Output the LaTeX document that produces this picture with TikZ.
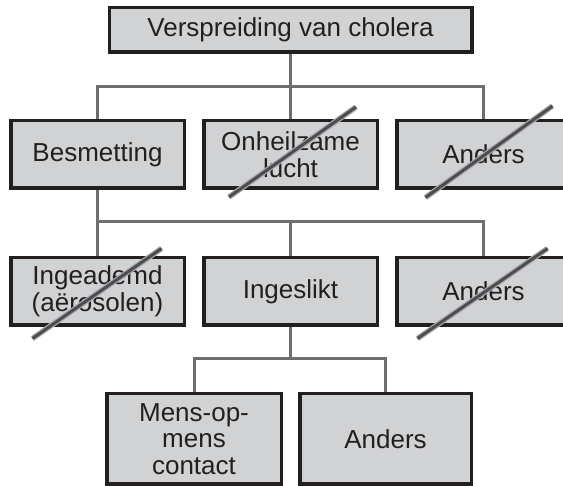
\documentclass[tikz,border=0pt]{standalone}
\usepackage{fontspec}
\setmainfont{Liberation Sans}
\definecolor{boxfill}{HTML}{D1D2D4}
\definecolor{boxline}{HTML}{231F20}
\definecolor{linkgray}{HTML}{6D6E71}
\definecolor{strikedark}{HTML}{4D4D4F}
\definecolor{strikelight}{HTML}{A7A9AC}

\begin{document}
\begin{tikzpicture}[x=1pt, y=-1pt,
    box/.style={draw=boxline, fill=boxfill, line width=3.5pt, inner sep=0pt, align=center,
      text=boxline, font=\fontsize{26}{26.5}\selectfont,
      minimum width=173.5pt, minimum height=67.5pt},
    link/.style={draw=linkgray, line width=3pt},
    strikelo/.style={draw=strikelight, line width=5.5pt},
    strikehi/.style={draw=strikedark, line width=3pt, xshift=-0.9pt, yshift=1.2pt}]
  \useasboundingbox (0,0) rectangle (563,486);
  \clip (0,0) rectangle (563,486);

  \node[box, minimum width=362.5pt, minimum height=44.5pt] (top) at (290.5,30) {Verspreiding van cholera};

  \node[box] (b1) at (97.5,154.5) {Besmetting};
  \node[box] (b2) at (290.5,154.5) {Onheilzame\\lucht};
  \node[box] (b3) at (483.5,154.5) {Anders};

  \node[box] (c1) at (97.5,291.5) {Ingeademd\\(aërosolen)};
  \node[box] (c2) at (290.5,291.5) {Ingeslikt};
  \node[box] (c3) at (483.5,291.5) {Anders};

  \node[box, minimum width=174.5pt, minimum height=90.5pt] (d1) at (194,439) {Mens-op-\\mens\\contact};
  \node[box, minimum width=171.5pt, minimum height=90.5pt] (d2) at (385.5,439) {Anders};

  \coordinate (j1) at (290.5,87);
  \coordinate (j2) at (97.5,222);
  \coordinate (j3) at (290.5,359);

  \draw[link] (top) -- (j1);
  \draw[link] (b1) |- (j1) -| (b3);
  \draw[link] (j1) -- (b2);

  \draw[link] (b1) -- (c1);
  \draw[link] (j2) -| (c3);
  \draw[link] (c2 |- j2) -- (c2);

  \draw[link] (c2) -- (j3);
  \draw[link] (d1) |- (j3) -| (d2);

  \draw[strikelo] ([shift={(-61.5,42.5)}]b2.center) -- ([shift={(65.5,-47.5)}]b2.center);
  \draw[strikehi] ([shift={(-61.5,42.5)}]b2.center) -- ([shift={(65.5,-47.5)}]b2.center);
  \draw[strikelo] ([shift={(-58,43)}]b3.center) -- ([shift={(69,-48.5)}]b3.center);
  \draw[strikehi] ([shift={(-58,43)}]b3.center) -- ([shift={(69,-48.5)}]b3.center);
  \draw[strikelo] ([shift={(-65,47)}]c1.center) -- ([shift={(64,-43)}]c1.center);
  \draw[strikehi] ([shift={(-65,47)}]c1.center) -- ([shift={(64,-43)}]c1.center);
  \draw[strikelo] ([shift={(-66,47)}]c3.center) -- ([shift={(64,-43)}]c3.center);
  \draw[strikehi] ([shift={(-66,47)}]c3.center) -- ([shift={(64,-43)}]c3.center);
\end{tikzpicture}
\end{document}
